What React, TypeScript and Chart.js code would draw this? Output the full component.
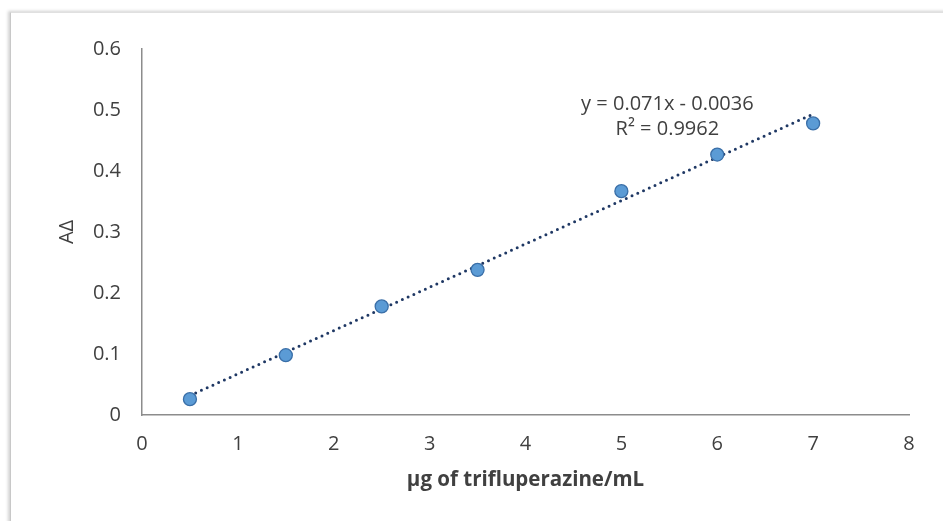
import React, { useEffect, useRef } from "react";
import { Chart, registerables } from "chart.js";

Chart.register(...registerables);

const concentrations = [0.5, 1.5, 2.5, 3.5, 5, 6, 7];
const absorbances = [0.026, 0.098, 0.178, 0.238, 0.367, 0.427, 0.478];
const slope = 0.071;
const intercept = -0.0036;
const trendRange = [0.5, 7];
const equationLines = ["y = 0.071x - 0.0036", "R² = 0.9962"];
const xTitle = "µg of trifluperazine/mL";
const yTitle = "AΔ";

const FONT = "'Open Sans', 'Noto Sans', sans-serif";

export default function App() {
  const ref = useRef<HTMLCanvasElement | null>(null);

  useEffect(() => {
    if (!ref.current) return;
    const points = concentrations.map((x, i) => ({ x, y: absorbances[i] }));
    const trend = trendRange.map((x) => ({ x, y: slope * x + intercept }));

    const equationPlugin = {
      id: "equation",
      afterDatasetsDraw(chart: any) {
        const { ctx, chartArea } = chart;
        const cx = chartArea.left + (chartArea.right - chartArea.left) * 0.685;
        const y0 = chartArea.top + 55;
        ctx.save();
        ctx.font = `20px ${FONT}`;
        ctx.fillStyle = "#404040";
        ctx.textAlign = "center";
        ctx.textBaseline = "middle";
        equationLines.forEach((t, i) => ctx.fillText(t, cx, y0 + i * 25));
        ctx.restore();
      },
    };

    const chart = new Chart(ref.current, {
      type: "scatter",
      data: {
        datasets: [
          {
            type: "line",
            data: trend,
            borderColor: "#1F3864",
            borderWidth: 3,
            borderDash: [0, 6.3],
            borderCapStyle: "round",
            pointRadius: 0,
            fill: false,
            order: 2,
          } as any,
          {
            data: points,
            backgroundColor: "#5B9BD5",
            borderColor: "#3A6FA8",
            borderWidth: 1.3,
            pointRadius: 6.5,
            order: 1,
          },
        ],
      },
      options: {
        animation: false,
        responsive: false,
        devicePixelRatio: 1,
        layout: { padding: { left: 0, top: 49, right: 34, bottom: 0 } },
        plugins: { legend: { display: false }, tooltip: { enabled: false } },
        scales: {
          x: {
            type: "linear",
            min: 0,
            max: 8,
            grid: { display: false, drawTicks: false },
            border: { display: true, color: "#8C8C8C", width: 1.5 },
            ticks: {
              stepSize: 1,
              padding: 17,
              color: "#404040",
              font: { family: FONT, size: 20 },
            },
            title: {
              display: true,
              text: xTitle,
              color: "#404040",
              font: { family: FONT, size: 20.5, weight: "bold" },
              padding: { top: 0, bottom: 29 },
            },
            afterFit(scale: any) {
              scale.height = 106;
            },
          },
          y: {
            type: "linear",
            min: 0,
            max: 0.6,
            grid: { display: false, drawTicks: false },
            border: { display: true, color: "#8C8C8C", width: 1.5 },
            ticks: {
              stepSize: 0.1,
              padding: 21,
              color: "#404040",
              font: { family: FONT, size: 20 },
              callback: (v: any) => String(Math.round(Number(v) * 10) / 10),
            },
            title: {
              display: true,
              text: yTitle,
              color: "#404040",
              font: { family: FONT, size: 20 },
              padding: { top: 55, bottom: 0 },
            },
            afterFit(scale: any) {
              scale.width = 142;
            },
          },
        },
      },
      plugins: [equationPlugin],
    });
    return () => chart.destroy();
  }, []);

  return (
    <div
      style={{
        position: "fixed",
        left: 0,
        top: 0,
        width: 943,
        height: 521,
        background: "#fff",
        overflow: "hidden",
      }}
    >
      <div
        style={{
          position: "absolute",
          left: 10,
          top: 12,
          width: 1000,
          height: 600,
          background: "#fff",
          borderLeft: "1px solid #c8c8c8",
          borderTop: "1px solid #e0e0e0",
          boxShadow: "-2px -1px 3px rgba(0,0,0,0.18)",
        }}
      />
      <canvas
        ref={ref}
        width={943}
        height={521}
        style={{ position: "absolute", left: 0, top: 0, width: 943, height: 521 }}
      />
    </div>
  );
}
